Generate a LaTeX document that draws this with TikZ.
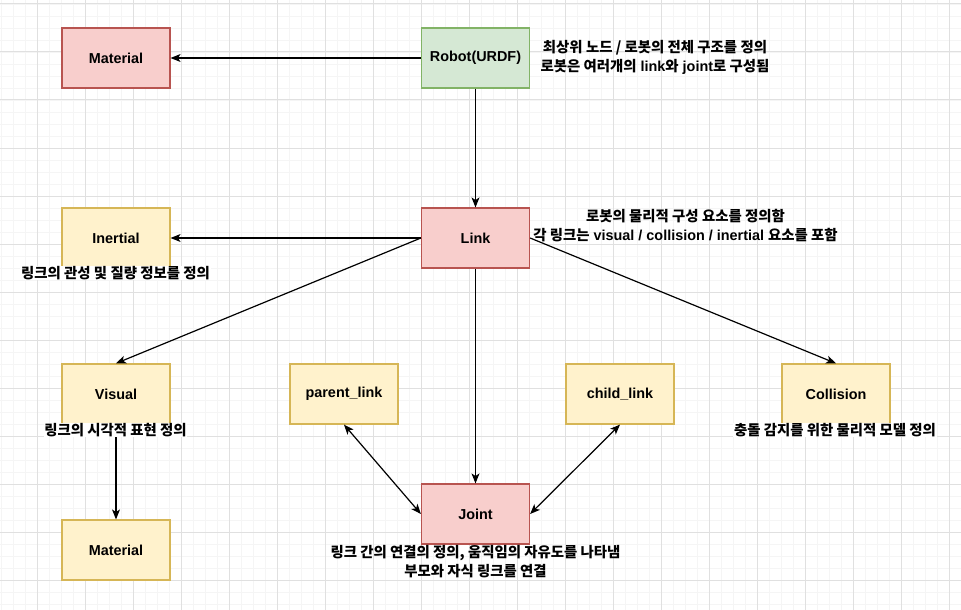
\documentclass[tikz,border=0pt]{standalone}
\usepackage{fontspec}
\setmainfont{Liberation Sans}
\newfontfamily\kr{Noto Sans CJK KR}
\usetikzlibrary{arrows.meta}

\tikzset{every picture/.style={line width=0.75pt}}
\tikzset{
  box/.style={draw, line width=0.9pt, minimum width=81pt, minimum height=45pt, font=\bfseries\fontsize{10.8}{13}\selectfont},
  redbox/.style={box, draw={rgb,255:red,184;green,84;blue,80}, fill={rgb,255:red,248;green,206;blue,204}},
  yellowbox/.style={box, draw={rgb,255:red,214;green,182;blue,86}, fill={rgb,255:red,255;green,242;blue,204}},
  greenbox/.style={box, draw={rgb,255:red,130;green,179;blue,102}, fill={rgb,255:red,213;green,232;blue,212}},
  note/.style={align=center, font=\bfseries\fontsize{10.8}{14.5}\selectfont, inner sep=0.5pt},
  notebg/.style={note, fill=white},
  arr/.style={draw, line width=0.9pt, -{Stealth[length=7.5pt,width=6pt,inset=2pt]}},
  darr/.style={arr, {Stealth[length=7.5pt,width=6pt,inset=2pt]}-{Stealth[length=7.5pt,width=6pt,inset=2pt]}}
}

\begin{document}
\begin{tikzpicture}[x=0.75pt,y=0.75pt,yscale=-1,xscale=1]
\useasboundingbox (0,0) rectangle (961,610);

%Grid
\foreach \gx in {1,13,...,961} \draw[line width=0.6pt, color={rgb,255:red,245;green,245;blue,245}] (\gx,0) -- (\gx,610);
\foreach \gy in {4,16,...,610} \draw[line width=0.6pt, color={rgb,255:red,245;green,245;blue,245}] (0,\gy) -- (961,\gy);
\foreach \gx in {37,85,...,961} \draw[line width=0.75pt, color={rgb,255:red,224;green,224;blue,224}] (\gx,0) -- (\gx,610);
\foreach \gy in {4,52,...,610} \draw[line width=0.75pt, color={rgb,255:red,224;green,224;blue,224}] (0,\gy) -- (961,\gy);

%Shape: Rectangle
\node[greenbox] (robot) at (475.5,58) {Robot(URDF)};
%Shape: Rectangle
\node[redbox] (material) at (116,58) {Material};
%Shape: Rectangle
\node[redbox] (link) at (475.5,238) {Link};
%Shape: Rectangle
\node[yellowbox] (inertial) at (116,238) {Inertial};
%Shape: Rectangle
\node[yellowbox] (visual) at (116,394) {Visual};
%Shape: Rectangle
\node[yellowbox] (parent) at (344,394) {parent\_link};
%Shape: Rectangle
\node[yellowbox] (child) at (620,394) {child\_link};
%Shape: Rectangle
\node[yellowbox] (collision) at (836,394) {Collision};
%Shape: Rectangle
\node[redbox] (joint) at (475.5,514) {Joint};
%Shape: Rectangle
\node[yellowbox] (vmaterial) at (116,550) {Material};

%Straight Lines
\draw[arr] (robot.west) -- (material.east);
\draw[arr] (robot.south) -- (link.north);
\draw[arr] (link.west) -- (inertial.east);
\draw[arr] (link.west) -- (visual.north);
\draw[arr] (link.east) -- (collision.north);
\draw[arr] (link.south) -- (joint.north);
\draw[arr] (visual.south) -- (vmaterial.north);
\draw[darr] (parent.south) -- (joint.west);
\draw[darr] (child.south) -- (joint.east);

% Text Node
\node[note] (robotnote) at (655,57.5) {{\kr 최상위 노드 / 로봇의 전체 구조를 정의}\\{\kr 로봇은 여러개의} link{\kr 와} joint{\kr 로 구성됨}};
% Text Node
\node[note] (linknote) at (685.5,225.5) {{\kr 로봇의 물리적 구성 요소를 정의함}\\{\kr 각 링크는} visual / collision / inertial {\kr 요소를 포함}};
% Text Node
\node[notebg] (inertialnote) at (115.5,273) {\kr 링크의 관성 및 질량 정보를 정의};
% Text Node
\node[notebg] (visualnote) at (115.5,430) {\kr 링크의 시각적 표현 정의};
% Text Node
\node[notebg] (collisionnote) at (835,430) {\kr 충돌 감지를 위한 물리적 모델 정의};
% Text Node
\node[note] (jointnote) at (475.5,561.5) {{\kr 링크 간의 연결의 정의, 움직임의 자유도를 나타냄}\\{\kr 부모와 자식 링크를 연결}};

\end{tikzpicture}
\end{document}
